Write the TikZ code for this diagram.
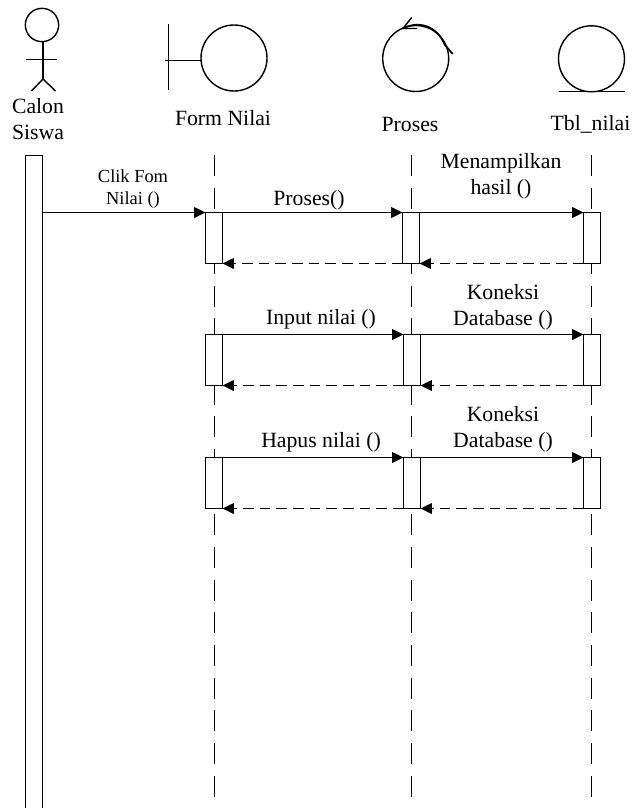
\documentclass[tikz,border=0pt]{standalone}
\usepackage{fontspec}
\setmainfont{Liberation Serif}
\usetikzlibrary{arrows.meta}
\tikzset{
  px/.style={x=0.75pt,y=-0.75pt},
  base/.style={line width=1.05pt,black},
  act/.style={draw,fill=white,line width=1.05pt,minimum width=12.75pt,minimum height=38.25pt,inner sep=0pt,outer sep=0pt},
  icon/.style={draw,circle,line width=1.05pt,minimum size=49.5pt,inner sep=0pt,outer sep=0pt},
  lbl/.style={inner sep=0pt,align=center,font=\fontsize{16.3}{19.5}\selectfont},
  small/.style={inner sep=0pt,align=center,font=\fontsize{13.8}{16.5}\selectfont},
  lifeline/.style={line width=1pt,dash pattern=on 15.7pt off 8.8pt},
  msg/.style={base,-{Triangle[length=8.5pt,width=8pt]}},
  ret/.style={base,dash pattern=on 8pt off 4.5pt,-{Triangle[length=8.5pt,width=8pt]}}
}
\begin{document}
\begin{tikzpicture}[px]
\useasboundingbox (0,0) rectangle (632,808);
% lifelines
\foreach \n/\x in {a/214.5,b/411.5,c/591.5}{
  \coordinate (\n top) at (\x,155);
  \coordinate (\n bot) at (\x,798);
  \draw[lifeline] (\n top) -- (\n bot);
}
% actor
\node[draw,circle,line width=1.05pt,minimum size=25pt,inner sep=0pt,outer sep=0pt] (head) at (42,25) {};
\coordinate (hip) at (43,79);
\coordinate (armL) at (25.5,59.5);
\coordinate (armR) at (56.5,59.5);
\coordinate (footL) at (31.5,91);
\coordinate (footR) at (55.5,91);
\draw[base] (head.south -| hip) -- (hip);
\draw[base] (armL) -- (armR);
\draw[base] (footL) -- (hip) -- (footR);
% boundary
\node[icon] (bnd) at (234,58) {};
\coordinate (bndTop) at (168.5,24);
\coordinate (bndBot) at (168.5,90);
\coordinate (bndStub) at (165,60.5);
\draw[base] (bndTop) -- (bndBot);
\draw[base] (bndStub) -- (bnd.west |- bndStub);
% control
\node[icon] (ctl) at (415.7,58.5) {};
\coordinate (ctlA) at (411.7,17.5);
\coordinate (ctlB) at (403,28.5);
\coordinate (ctlC) at (417,28.5);
\coordinate (ctlD) at (452.7,54);
\draw[base] (ctlA) -- (ctlB) -- (ctlC);
\draw[base,line width=1.3pt] (ctlB) .. controls (417,21) and (436,24) .. (445,45) -- (ctlD);
% entity
\node[icon] (ent) at (591.5,58.8) {};
\coordinate (entL) at (558.5,91.5);
\coordinate (entR) at (625,91.5);
\draw[base] (entL) -- (entR);
% actor bar
\node[minimum width=12.75pt,minimum height=489.4pt,inner sep=0pt,outer sep=0pt] (bar) at (34,481.75) {};
\draw[base] (bar.south west) |- (bar.north east) -- (bar.south east);
% activations
\node[act] (f1) at (214,238) {};
\node[act] (p1) at (411,238) {};
\node[act] (t1) at (592,238) {};
\node[act] (f2) at (214,360) {};
\node[act] (p2) at (412,360) {};
\node[act] (t2) at (592,360) {};
\node[act] (f3) at (214,483) {};
\node[act] (p3) at (412,483) {};
\node[act] (t3) at (592,483) {};
% messages
\draw[msg] (bar.east |- f1.north) -- (f1.north west);
\foreach \r in {1,2,3}{
  \draw[msg] (f\r.north east) -- (p\r.north west);
  \draw[msg] (p\r.north east) -- (t\r.north west);
  \draw[ret] (t\r.south west) -- (p\r.south east);
  \draw[ret] (p\r.south west) -- (f\r.south east);
}
% labels
\node[lbl] (calon) at (38,119.5) {Calon\\Siswa};
\node[lbl] (form) at (223,118) {Form Nilai};
\node[lbl] (proses) at (410,124.5) {Proses};
\node[lbl] (tbl) at (590.5,124.5) {Tbl\_nilai};
\node[small] (clik) at (133,189) {Clik Fom\\Nilai ()};
\node[lbl] (mproses) at (309,200.5) {Proses()};
\node[lbl] (mhasil) at (501,176.5) {Menampilkan\\hasil ()};
\node[lbl] (minput) at (321,319.5) {Input nilai ()};
\node[lbl] (mkon1) at (503,307) {Koneksi\\Database ()};
\node[lbl] (mhapus) at (321,442.5) {Hapus nilai ()};
\node[lbl] (mkon2) at (503,429) {Koneksi\\Database ()};
\end{tikzpicture}
\end{document}
